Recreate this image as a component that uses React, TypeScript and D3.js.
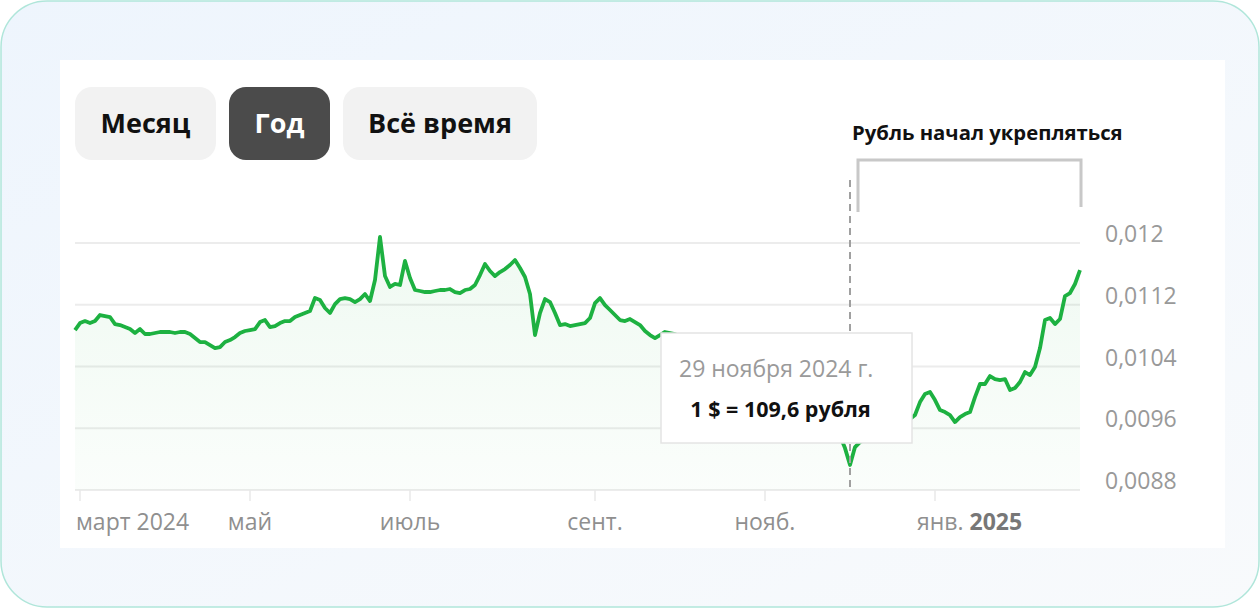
import React from 'react';
import * as d3 from 'd3';

const W = 1260;
const H = 608;

// $ за 1 рубль, точки через равные шаги по оси X (март 2024 - февраль 2025)
const rate = [
  0.010872, 0.010963, 0.010989, 0.010963, 0.010989, 0.011067, 0.011054, 0.011041, 0.010950, 0.010937,
  0.010911, 0.010885, 0.010834, 0.010885, 0.010821, 0.010821, 0.010834, 0.010847, 0.010847, 0.010847,
  0.010834, 0.010847, 0.010847, 0.010821, 0.010769, 0.010717, 0.010717, 0.010678, 0.010639, 0.010652,
  0.010717, 0.010743, 0.010782, 0.010834, 0.010860, 0.010872, 0.010885, 0.010976, 0.011002, 0.010911,
  0.010924, 0.010963, 0.010989, 0.010989, 0.011041, 0.011067, 0.011093, 0.011119, 0.011287, 0.011261,
  0.011158, 0.011093, 0.011209, 0.011274, 0.011287, 0.011274, 0.011235, 0.011274, 0.011339, 0.011248,
  0.011520, 0.012078, 0.011572, 0.011430, 0.011469, 0.011456, 0.011767, 0.011546, 0.011391, 0.011378,
  0.011365, 0.011365, 0.011378, 0.011391, 0.011391, 0.011404, 0.011365, 0.011352, 0.011391, 0.011404,
  0.011456, 0.011585, 0.011728, 0.011637, 0.011572, 0.011624, 0.011663, 0.011715, 0.011780, 0.011676,
  0.011559, 0.011339, 0.010808, 0.011093, 0.011274, 0.011235, 0.011093, 0.010937, 0.010950, 0.010924,
  0.010937, 0.010950, 0.010963, 0.011028, 0.011222, 0.011287, 0.011196, 0.011132, 0.011067, 0.011002,
  0.010989, 0.011015, 0.010976, 0.010937, 0.010860, 0.010808, 0.010769, 0.010808, 0.010847, 0.010834,
  0.010821, 0.010769, 0.010795, 0.010717, 0.010652, 0.010678, 0.010587, 0.010536, 0.010574, 0.010484,
  0.010406, 0.010445, 0.010367, 0.010328, 0.010380, 0.010289, 0.010224, 0.010263, 0.010173, 0.010121,
  0.010160, 0.010069, 0.010017, 0.010056, 0.009978, 0.009939, 0.009991, 0.009887, 0.009823, 0.009862,
  0.009745, 0.009667, 0.009602, 0.009499, 0.009343, 0.009124, 0.009356, 0.009421, 0.009447, 0.009499,
  0.009473, 0.009564, 0.009602, 0.009576, 0.009654, 0.009693, 0.009667, 0.009719, 0.009771, 0.009939,
  0.010043, 0.010069, 0.009965, 0.009836, 0.009810, 0.009771, 0.009680, 0.009745, 0.009784, 0.009810,
  0.010004, 0.010173, 0.010173, 0.010276, 0.010237, 0.010224, 0.010237, 0.010095, 0.010121, 0.010199,
  0.010328, 0.010289, 0.010393, 0.010639, 0.011002, 0.011028, 0.010950, 0.011015, 0.011313, 0.011352,
  0.011469, 0.011650,
];

const yTicks = [0.0088, 0.0096, 0.0104, 0.0112, 0.012];
const monthTickIdx = [1, 35, 67, 104, 138, 172];
const monthLabels = ['март 2024', 'май', 'июль', 'сент.', 'нояб.', 'янв.'];
const yearMark = '2025';
const buttons = ['Месяц', 'Год', 'Всё время'];
const activeButton = 'Год';
const tooltipDate = '29 ноября 2024 г.';
const annotation = 'Рубль начал укрепляться';

const plot = { left: 75, right: 1080, top: 243, bottom: 490 };
const btnLayout = [
  { x: 75, w: 141 },
  { x: 229, w: 101 },
  { x: 343, w: 194 },
];
const font = '"Open Sans", "Noto Sans", sans-serif';

const App = () => {
  const x = d3.scaleLinear().domain([0, rate.length - 1]).range([plot.left, plot.right]);
  const y = d3.scaleLinear().domain([0.0088, 0.012]).range([plot.bottom, plot.top]);

  const line = d3.line<number>().x((_, i) => x(i)).y((d) => y(d));
  const area = d3.area<number>().x((_, i) => x(i)).y0(plot.bottom).y1((d) => y(d));

  const minIdx = d3.minIndex(rate);
  const hx = x(minIdx);
  const rub = (1 / rate[minIdx]).toFixed(1).replace('.', ',');

  const tip = { x: hx - 189, y: 333, w: 251, h: 110 };
  const br = { x0: 858, x1: 1081, y: 160 };

  return (
    <div style={{ position: 'absolute', left: 0, top: 0 }}>
      <svg width={W} height={H} style={{ display: 'block' }}>
        <defs>
          <linearGradient id="fillG" x1="0" y1="0" x2="0" y2="1">
            <stop offset="0%" stopColor="#1db141" stopOpacity={0.07} />
            <stop offset="100%" stopColor="#1db141" stopOpacity={0.02} />
          </linearGradient>
          <linearGradient id="bgG" x1="0" y1="0" x2="1" y2="1">
            <stop offset="0%" stopColor="#eef5fd" />
            <stop offset="100%" stopColor="#f8fafc" />
          </linearGradient>
        </defs>
        <rect x={1} y={1} width={W - 2} height={H - 2} rx={46} fill="url(#bgG)" stroke="#b0e6da" strokeWidth={1.5} />
        <rect x={60} y={60} width={1165} height={488} fill="#ffffff" />

        {buttons.map((b, i) => {
          const on = b === activeButton;
          const l = btnLayout[i];
          return (
            <g key={b}>
              <rect x={l.x} y={87} width={l.w} height={73} rx={17} fill={on ? '#4b4b4b' : '#f2f2f2'} />
              <text x={l.x + l.w / 2} y={133} textAnchor="middle" fontFamily={font} fontWeight={700}
                fontSize={27} fill={on ? '#ffffff' : '#111111'}>{b}</text>
            </g>
          );
        })}

        {yTicks.map((t) => (
          <g key={t}>
            <line x1={plot.left} x2={plot.right} y1={y(t)} y2={y(t)} stroke="#ececec" strokeWidth={2} />
            <text x={1105} y={y(t) - 1} fontFamily={font} fontSize={23} fill="#999999">
              {String(t).replace('.', ',')}
            </text>
          </g>
        ))}

        {monthTickIdx.map((idx, i) => (
          <g key={idx}>
            <line x1={x(idx)} x2={x(idx)} y1={plot.bottom} y2={plot.bottom + 11} stroke="#e8e8e8" strokeWidth={1.5} />
            {i === 0 ? (
              <text x={x(idx) - 4} y={530} fontFamily={font} fontSize={23} fill="#8f8f8f">{monthLabels[i]}</text>
            ) : i === monthLabels.length - 1 ? (
              <text x={x(idx) - 18} y={530} fontFamily={font} fontSize={23} fill="#8f8f8f">
                {monthLabels[i]}<tspan dx={6} fontWeight={700} fill="#777777">{yearMark}</tspan>
              </text>
            ) : (
              <text x={x(idx)} y={530} textAnchor="middle" fontFamily={font} fontSize={23} fill="#8f8f8f">{monthLabels[i]}</text>
            )}
          </g>
        ))}

        <path d={area(rate) || ''} fill="url(#fillG)" />
        <path d={line(rate) || ''} fill="none" stroke="#1db141" strokeWidth={3.8} strokeLinejoin="round" />

        <line x1={hx} x2={hx} y1={180} y2={plot.bottom} stroke="#a0a0a0" strokeWidth={2} strokeDasharray="7,5" />

        <rect x={tip.x} y={tip.y} width={tip.w} height={tip.h} fill="#ffffff" stroke="#e4e4e4" strokeWidth={1.5} />
        <text x={tip.x + 18} y={tip.y + 44} fontFamily={font} fontSize={23} fill="#9a9a9a">{tooltipDate}</text>
        <text x={tip.x + tip.w / 2 - 6} y={tip.y + 84} textAnchor="middle" fontFamily={font} fontWeight={700}
          fontSize={21.5} fill="#111111">{`1 $ = ${rub} рубля`}</text>

        <path d={`M${br.x0},${br.y + 52}V${br.y}H${br.x1}V${br.y + 47}`} fill="none" stroke="#c8c8c8" strokeWidth={3} />
        <text x={852} y={140} fontFamily={font} fontWeight={700} fontSize={20.3} fill="#111111">{annotation}</text>
      </svg>
    </div>
  );
};

export default App;
